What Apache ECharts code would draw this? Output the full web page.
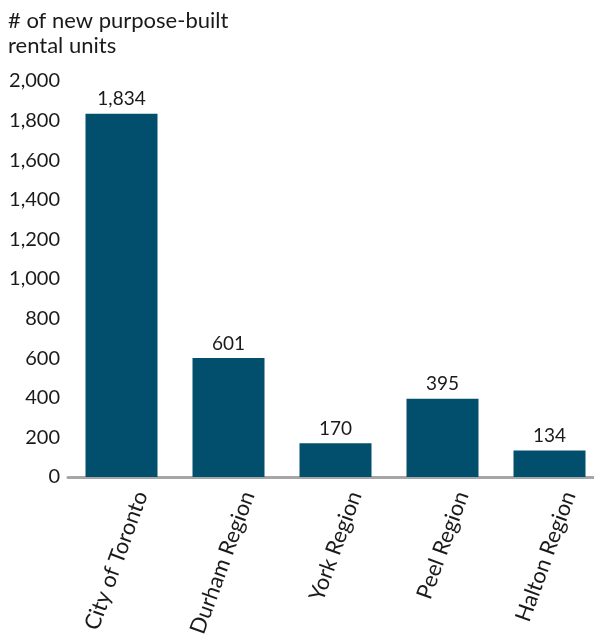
<!DOCTYPE html>
<html>
<head>
<meta charset="utf-8">
<script src="https://cdn.jsdelivr.net/npm/echarts@6/dist/echarts.min.js"></script>
<style>html,body{margin:0;padding:0;background:#fff}#c{width:594px;height:634px}</style>
</head>
<body>
<div id="c"></div>
<script>
const categories = ['City of Toronto', 'Durham Region', 'York Region', 'Peel Region', 'Halton Region'];
const units = [1834, 601, 170, 395, 134];
const yTicks = { min: 0, max: 2000, interval: 200 };
const titleText = '# of new purpose-built\nrental units';

const FONT = 'Lato';
const chart = echarts.init(document.getElementById('c'));
chart.setOption({
  animation: false,
  backgroundColor: '#ffffff',
  textStyle: { fontFamily: FONT },
  title: {
    text: titleText,
    left: 3, top: 3,
    textStyle: { fontFamily: FONT, fontSize: 22, fontWeight: 'normal', color: '#1a1a1a', lineHeight: 25 }
  },
  grid: { left: 68, width: 535, top: 81, height: 396, containLabel: false, outerBoundsMode: 'none' },
  xAxis: {
    type: 'category',
    data: categories,
    axisLine: { show: true, lineStyle: { color: '#a6a6a6', width: 3 } },
    axisTick: { show: false },
    axisLabel: {
      rotate: 70, margin: 8, fontSize: 22, color: '#1a1a1a', fontFamily: FONT,
      interval: 0, verticalAlign: 'top', lineHeight: 42
    }
  },
  yAxis: {
    type: 'value',
    min: yTicks.min, max: yTicks.max, interval: yTicks.interval,
    axisLine: { show: false }, axisTick: { show: false }, splitLine: { show: false },
    axisLabel: {
      fontSize: 20, color: '#1a1a1a', fontFamily: FONT, margin: 8,
      formatter: v => v.toLocaleString('en-US')
    }
  },
  series: [{
    type: 'bar',
    data: units,
    barWidth: 72,
    itemStyle: { color: '#024f6d' },
    label: {
      show: true, position: 'top', distance: 5, fontSize: 19, color: '#1a1a1a', fontFamily: FONT,
      formatter: p => p.value.toLocaleString('en-US')
    }
  }]
});
</script>
</body>
</html>
